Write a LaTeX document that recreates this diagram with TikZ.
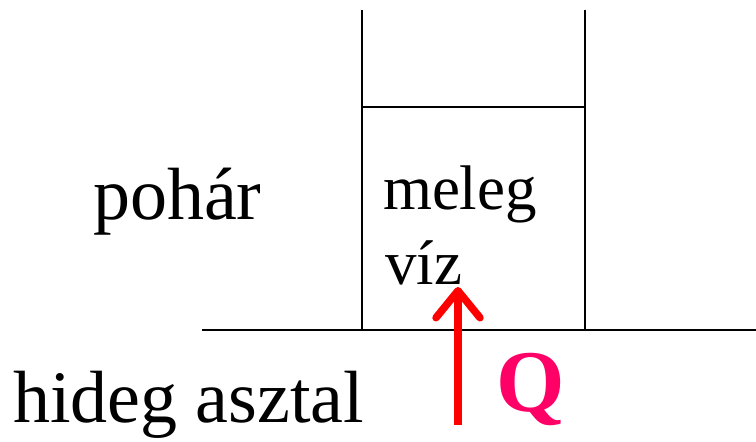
\documentclass[tikz,border=0pt]{standalone}
\usepackage{fontspec}
\setmainfont{Liberation Serif}
\usetikzlibrary{arrows.meta}
\definecolor{qpink}{HTML}{FF0066}
\tikzset{
  wall/.style={line width=2pt, black},
  lbl/.style={anchor=base west, inner sep=0pt, outer sep=0pt},
  heat/.style={line width=7.5pt, red, -{Straight Barb[length=27pt,width=44pt,line width=7.5pt,line cap=round,round]}}
}
\begin{document}
\begin{tikzpicture}[x=1pt,y=1pt]
\useasboundingbox (0,0) rectangle (756,442);
% glass walls
\coordinate (gl1) at (362,432);
\coordinate (gl2) at (362,112);
\coordinate (gr1) at (585,432);
\coordinate (gr2) at (585,112);
\coordinate (w1) at (362,335);
\coordinate (w2) at (585,335);
\coordinate (t1) at (202,112);
\coordinate (t2) at (756,112);
\draw[wall] (gl1) -- (gl2);
\draw[wall] (gr1) -- (gr2);
\draw[wall] (w1) -- (w2);
\draw[wall] (t1) -- (t2);
% labels
\node[lbl, font=\fontsize{74}{80}\selectfont] (pohar) at (93,222) {pohár};
\node[lbl, font=\fontsize{74}{80}\selectfont] (asztal) at (13,19) {hideg asztal};
\node[lbl, font=\fontsize{63}{70}\selectfont] (meleg) at (383,232) {meleg};
\node[lbl, font=\fontsize{63}{70}\selectfont] (viz) at (385,157) {víz};
\node[lbl, font=\fontsize{88}{94}\bfseries\selectfont, text=qpink] (Q) at (496,30) {Q};
% heat arrow
\coordinate (a1) at (458,17);
\coordinate (a2) at (458,155);
\draw[heat] (a1) -- (a2);
\end{tikzpicture}
\end{document}
